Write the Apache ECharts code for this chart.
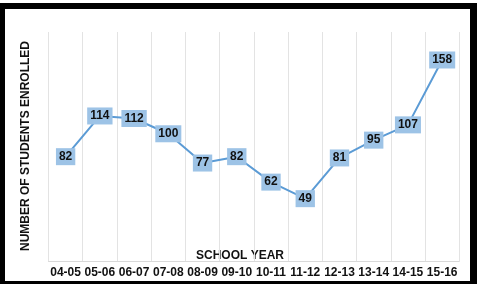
<!DOCTYPE html>
<html><head><meta charset="utf-8">
<script src="https://cdn.jsdelivr.net/npm/echarts@6/dist/echarts.min.js"></script>
<style>
html,body{margin:0;padding:0;background:#fff;}
#frame{position:absolute;left:0;top:3px;border-left:5px solid #000;border-top:6px solid #000;border-right:7px solid #000;border-bottom:3px solid #000;width:465px;height:272px;}
#c{position:absolute;left:0;top:0;width:479px;height:284px;}
</style></head>
<body>
<div id="frame"></div>
<div id="c"></div>
<script>
const categories = ['04-05','05-06','06-07','07-08','08-09','09-10','10-11','11-12','12-13','13-14','14-15','15-16'];
const enrolled = [82,114,112,100,77,82,62,49,81,95,107,158];
const xAxisTitle = 'SCHOOL YEAR';
const yAxisTitle = 'NUMBER OF STUDENTS ENROLLED';

const chart = echarts.init(document.getElementById('c'));
chart.setOption({
  animation:false,
  grid:{left:48.5,right:19.7,top:32,bottom:23},
  xAxis:{type:'category',data:categories,boundaryGap:true,
    axisLine:{lineStyle:{color:'#d9d9d9'}},axisTick:{show:false},
    splitLine:{show:true,lineStyle:{color:'#e3e3e3'}},
    axisLabel:{color:'#111',fontWeight:'bold',fontSize:12,fontFamily:'Liberation Sans, Arial',margin:6,interval:0}},
  yAxis:{type:'value',min:0,max:180,show:false,splitLine:{show:false}},
  graphic:[
    {type:'text',left:196,top:250,style:{text:xAxisTitle,fill:'#111',font:'bold 12px "Liberation Sans", Arial'}},
    {type:'text',x:20,y:251,rotation:Math.PI/2,style:{text:yAxisTitle,fill:'#111',font:'bold 12px "Liberation Sans", Arial'}}
  ],
  series:[{type:'line',data:enrolled,symbol:'circle',symbolSize:1,
    itemStyle:{color:'#5B9BD5'},
    lineStyle:{color:'#5B9BD5',width:2},
    label:{show:true,position:'inside',color:'#111',fontWeight:'bold',fontSize:12,fontFamily:'Liberation Sans, Arial',
      backgroundColor:'#9DC3E6',padding:[3,3,2,3]}}]
});
</script>
</body></html>
